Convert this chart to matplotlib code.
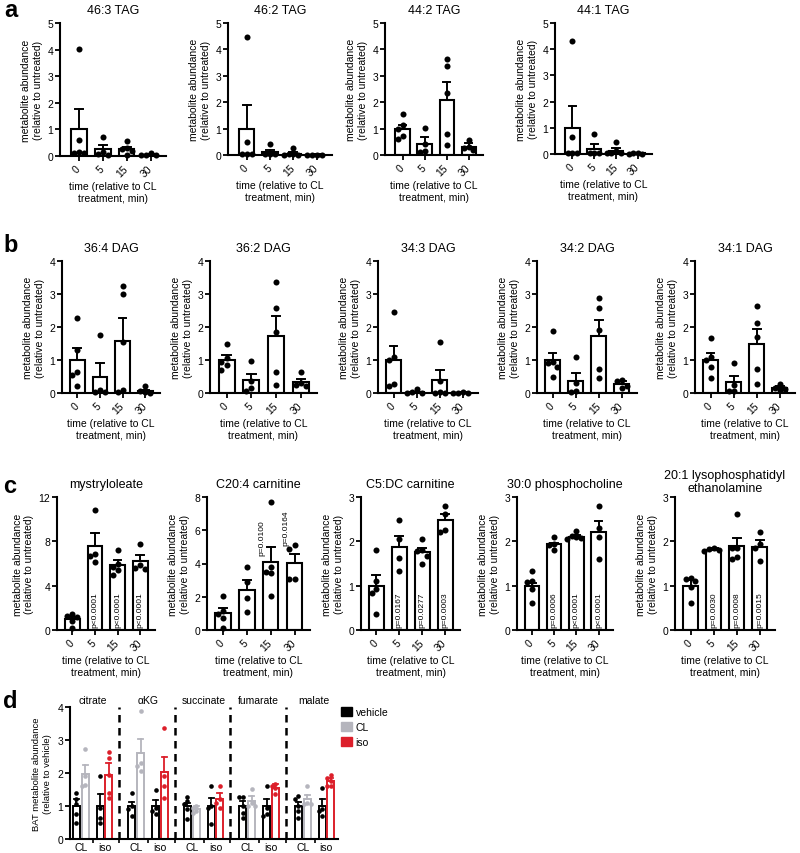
import numpy as np
import matplotlib
matplotlib.use('Agg')
import matplotlib.pyplot as plt
from matplotlib.patches import Patch

plt.rcParams['font.family'] = ['Liberation Sans', 'DejaVu Sans']

# ---- panel a: TAGs
times = ['0', '5', '15', '30']
tag_titles = ['46:3 TAG', '46:2 TAG', '44:2 TAG', '44:1 TAG']
tag_bars = [[1.0, 0.25, 0.27, 0.05], [1.0, 0.1, 0.05, 0.01], [1.0, 0.43, 2.1, 0.32], [1.0, 0.2, 0.12, 0.02]]
tag_errs = [[1.77, 0.4, 0.35, 0.08], [1.88, 0.2, 0.1, 0.02], [1.12, 0.68, 2.77, 0.45], [1.83, 0.4, 0.22, 0.03]]
tag_points = [
    [[4.02, 0.6, 0.15, 0.12, 0.1], [0.72, 0.15, 0.08, 0.05], [0.58, 0.3, 0.25, 0.2, 0.05], [0.1, 0.05, 0.05, 0.02]],
    [[4.48, 0.5, 0.02, 0.02, 0.02], [0.4, 0.05, 0.02, 0.02], [0.25, 0.05, 0.02, 0.01, 0.01], [0.01, 0.01, 0.01, 0.01]],
    [[1.54, 1.12, 1.0, 0.72, 0.62], [1.03, 0.42, 0.15, 0.1], [3.64, 3.36, 2.33, 0.78, 0.39], [0.56, 0.3, 0.25, 0.2]],
    [[4.3, 0.63, 0.05, 0.02, 0.02], [0.77, 0.05, 0.02, 0.02], [0.45, 0.1, 0.05, 0.02, 0.02], [0.03, 0.02, 0.01, 0.01]],
]

# ---- panel b: DAGs
dag_titles = ['36:4 DAG', '36:2 DAG', '34:3 DAG', '34:2 DAG', '34:1 DAG']
dag_bars = [[1.0, 0.47, 1.58, 0.05], [1.0, 0.38, 1.74, 0.32], [1.0, 0.02, 0.39, 0.01],
            [1.0, 0.36, 1.72, 0.28], [1.0, 0.32, 1.5, 0.15]]
dag_errs = [[1.37, 0.9, 2.27, 0.1], [1.14, 0.59, 2.32, 0.42], [1.41, 0.04, 0.7, 0.02],
            [1.22, 0.62, 2.2, 0.36], [1.2, 0.53, 1.93, 0.2]]
dag_points = [
    [[2.27, 1.3, 0.63, 0.56, 0.2], [1.76, 0.1, 0.02, 0.02], [3.23, 3.0, 1.55, 0.1, 0.02], [0.22, 0.05, 0.02, 0.01]],
    [[1.49, 1.05, 0.95, 0.85, 0.69], [0.98, 0.35, 0.15, 0.05], [3.35, 2.58, 1.85, 0.63, 0.25], [0.63, 0.3, 0.25, 0.2]],
    [[2.44, 1.1, 1.0, 0.27, 0.22], [0.12, 0.02, 0.01, 0.01], [1.56, 0.35, 0.02, 0.01, 0.01], [0.02, 0.01, 0.01, 0.01]],
    [[1.87, 0.95, 0.9, 0.8, 0.5], [1.09, 0.3, 0.05, 0.02], [2.88, 2.58, 1.92, 0.74, 0.46], [0.38, 0.36, 0.22, 0.15]],
    [[1.66, 1.1, 1.0, 0.8, 0.44], [0.92, 0.25, 0.05, 0.05], [2.64, 2.12, 1.7, 0.72, 0.28], [0.27, 0.15, 0.12, 0.08]],
]

# ---- panel c
c_titles = ['mystryloleate', 'C20:4 carnitine', 'C5:DC carnitine', '30:0 phosphocholine',
            '20:1 lysophosphatidyl\nethanolamine']
c_ymax = [12, 8, 3, 3, 3]
c_yticks = [[0, 4, 8, 12], [0, 2, 4, 6, 8], [0, 1, 2, 3], [0, 1, 2, 3], [0, 1, 2, 3]]
c_bars = [[1.0, 7.6, 5.85, 6.2], [1.0, 2.43, 4.08, 4.03], [1.0, 1.87, 1.76, 2.47],
          [1.0, 1.93, 2.1, 2.2], [1.0, 1.8, 1.9, 1.88]]
c_errs = [[1.2, 8.72, 6.3, 6.74], [1.3, 3.0, 4.97, 4.6], [1.25, 2.11, 1.85, 2.61],
          [1.05, 1.97, 2.15, 2.45], [1.13, 1.84, 2.08, 2.04]]
c_points = [
    [[1.46, 1.3, 1.15, 0.8, 0.22], [10.86, 6.9, 6.7, 6.13], [7.2, 6.0, 5.7, 5.4, 4.95], [7.8, 5.9, 5.6, 5.5]],
    [[2.04, 1.15, 0.95, 0.75, 0.1], [3.76, 2.9, 1.94, 1.1], [7.68, 3.8, 3.5, 3.4, 2.04], [5.1, 4.9, 3.05, 3.05]],
    [[1.81, 1.1, 0.92, 0.83, 0.36], [2.47, 2.05, 1.63, 1.34], [2.05, 1.8, 1.78, 1.68, 1.5], [2.8, 2.62, 2.25, 2.2]],
    [[1.32, 1.11, 1.08, 0.92, 0.62], [2.09, 1.95, 1.92, 1.8], [2.24, 2.12, 2.1, 2.08, 2.05], [2.8, 2.3, 2.1, 1.6]],
    [[1.17, 1.15, 1.1, 0.98, 0.6], [1.85, 1.82, 1.8, 1.78], [2.62, 1.85, 1.85, 1.65, 1.6], [2.2, 1.95, 1.85, 1.55]],
]
c_pvals = [['', 'p<0.0001', 'p<0.0001', 'p<0.0001'],
           ['', '', 'p=0.0100', 'p=0.0164'],
           ['', 'p=0.0167', 'p=0.0277', 'p=0.0003'],
           ['', 'p=0.0006', 'p<0.0001', 'p<0.0001'],
           ['', 'p=0.0030', 'p=0.0008', 'p=0.0015']]
c20_pval_base = [0, 0, 4.5, 5.1]   # p-values drawn above the bars in C20:4

# ---- panel d
d_names = ['citrate', 'αKG', 'succinate', 'fumarate', 'malate']
d_groups = ['vehicle', 'CL', 'iso']
d_ticklabels = ['CL', 'iso']
d_bars = [[1.0, 1.97, 1.0, 1.94], [1.0, 2.6, 1.0, 2.03], [1.0, 0.9, 1.0, 1.22],
          [1.0, 1.15, 1.0, 1.55], [1.0, 1.2, 1.0, 1.75]]
d_errs = [[1.22, 2.25, 1.35, 2.3], [1.12, 3.02, 1.17, 2.48], [1.1, 1.0, 1.25, 1.38],
          [1.15, 1.3, 1.2, 1.68], [1.12, 1.33, 1.2, 1.85]]
d_points = [
    [[1.4, 1.2, 1.05, 0.75, 0.5], [2.72, 1.9, 1.65, 1.6], [1.92, 0.95, 0.65, 0.5], [2.63, 2.45, 1.95, 1.4, 1.25]],
    [[1.4, 1.0, 0.9, 0.7], [3.87, 2.3, 2.2, 2.05], [1.5, 0.95, 0.85, 0.75], [3.35, 1.9, 1.6, 1.25]],
    [[1.27, 1.15, 1.05, 0.9, 0.6], [1.0, 0.95, 0.85, 0.8], [1.6, 1.0, 0.95, 0.45], [1.62, 1.2, 1.1, 0.95]],
    [[1.27, 1.27, 1.0, 0.8, 0.65], [1.52, 1.1, 1.0, 1.0], [1.6, 0.95, 0.75, 0.7], [1.68, 1.62, 1.55, 1.35]],
    [[1.3, 1.22, 1.0, 0.85, 0.63], [1.6, 1.1, 1.05, 1.05], [1.55, 0.9, 0.85, 0.7], [1.95, 1.85, 1.75, 1.6, 1.6]],
]

GRAY = '#b5b5bd'
RED = '#dc1f2a'
W, H = 800, 854
fig = plt.figure(figsize=(W / 100, H / 100), dpi=100)


def px_axes(l, t, r, b):
    return fig.add_axes([l / W, 1 - b / H, (r - l) / W, (b - t) / H])


def dodge(ys, ythr, step):
    # spread overlapping points sideways like a scatter dot plot
    placed, offs = [], []
    for y in ys:
        for k in [0, -1, 1, -2, 2, -3, 3]:
            o = k * step
            if all(abs(y - py) > ythr or abs(o - po) > step * 0.9 for py, po in placed):
                break
        placed.append((y, o))
        offs.append(o)
    return np.array(offs)


def style(ax, fs=7.5):
    for s in ['top', 'right']:
        ax.spines[s].set_visible(False)
    for s in ['left', 'bottom']:
        ax.spines[s].set_linewidth(1.5)
    ax.tick_params(width=1.3, length=3.5, labelsize=fs, pad=1.5)


def time_panel(ax, title, bars, errs, pts, ymax, yticks, xl, pvals=None, pbase=None, tpad=7.0):
    x = np.arange(4)
    ax.bar(x, bars, width=0.65, color='white', edgecolor='black', linewidth=1.5, zorder=2)
    for i in range(4):
        ax.plot([i, i], [bars[i], errs[i]], color='black', lw=1.4, zorder=3)
        ax.plot([i - 0.17, i + 0.17], [errs[i], errs[i]], color='black', lw=1.4, zorder=3)
        off = dodge(pts[i], ymax * 0.045, 0.21)
        ax.scatter(i + off, pts[i], s=19, color='black', zorder=4, clip_on=False, linewidths=0)
        if pvals and pvals[i]:
            if pbase is None:
                ax.text(i, ymax * 0.025, pvals[i], rotation=90, ha='center', va='bottom',
                        fontsize=6, zorder=5)
            else:
                ax.text(i - 0.38, pbase[i], pvals[i], rotation=90, ha='center', va='bottom',
                        fontsize=6, zorder=5)
    ax.set_xlim(xl, 3.65)
    ax.set_ylim(0, ymax)
    ax.set_yticks(yticks)
    ax.set_xticks(x)
    ax.set_xticklabels(times, rotation=45, ha='right', va='center', rotation_mode='anchor')
    style(ax)
    ax.tick_params(axis='x', pad=4)
    ax.set_title(title, fontsize=9, pad=tpad, linespacing=1.1)
    ax.set_xlabel('time (relative to CL\ntreatment, min)', fontsize=7.5, labelpad=2)
    ax.set_ylabel('metabolite abundance\n(relative to untreated)', fontsize=7.5, labelpad=3)


# panel a
a_rects = [(60, 24, 166, 157), (228, 24, 332, 156), (385, 24, 483, 156), (555, 24, 652, 155)]
for k, r in enumerate(a_rects):
    ax = px_axes(*r)
    time_panel(ax, tag_titles[k], tag_bars[k], tag_errs[k], tag_points[k], 5, [0, 1, 2, 3, 4, 5], -0.8)

# panel b
b_rects = [(62, 262, 160, 394), (210, 262, 317, 394), (378, 262, 478, 394), (537, 262, 637, 394), (695, 262, 795, 394)]
for k, r in enumerate(b_rects):
    ax = px_axes(*r)
    time_panel(ax, dag_titles[k], dag_bars[k], dag_errs[k], dag_points[k], 4, [0, 1, 2, 3, 4], -0.67)

# panel c
c_rects = [(57, 498, 155, 631), (207, 498, 310, 631), (361, 498, 460, 631), (517, 498, 613, 631), (675, 498, 775, 631)]
for k, r in enumerate(c_rects):
    ax = px_axes(*r)
    time_panel(ax, c_titles[k], c_bars[k], c_errs[k], c_points[k], c_ymax[k], c_yticks[k], -0.67,
               pvals=c_pvals[k], pbase=c20_pval_base if k == 1 else None,
               tpad=4.5 if k == 4 else 7.0)

# panel d
ax = px_axes(70, 708, 338, 840)
gstep = 6.2
inner = [0.0, 1.0, 2.68, 3.63]
cols = ['black', GRAY, 'black', RED]
for g in range(5):
    for j in range(4):
        xc = g * gstep + inner[j]
        ax.bar(xc, d_bars[g][j], width=0.78, color='white', edgecolor=cols[j], linewidth=1.4, zorder=2)
        ax.plot([xc, xc], [d_bars[g][j], d_errs[g][j]], color=cols[j], lw=1.3, zorder=3)
        ax.plot([xc - 0.28, xc + 0.28], [d_errs[g][j], d_errs[g][j]], color=cols[j], lw=1.3, zorder=3)
        off = dodge(d_points[g][j], 0.12, 0.4)
        ax.scatter(xc + off, d_points[g][j], s=11, color=cols[j], zorder=4, linewidths=0, clip_on=False)
    ax.text(g * gstep + 1.8, 4.22, d_names[g], ha='center', va='center', fontsize=7.5)
    if g < 4:
        ax.plot([g * gstep + 4.8] * 2, [0, 4], color='black', lw=1.8, ls=(0, (3, 2.2)), zorder=1)
ax.set_xlim(-0.7, 29.25)
ax.set_ylim(0, 4)
ax.set_yticks([0, 1, 2, 3, 4])
ctr = []
for g in range(5):
    ctr += [g * gstep + 0.5, g * gstep + 3.15]
ax.set_xticks(ctr)
ax.set_xticklabels(d_ticklabels * 5)
style(ax, fs=7.5)
ax.tick_params(axis='x', length=0, pad=2)
ax.set_xticks([g * gstep + 1.84 for g in range(5)] + [g * gstep + 4.8 for g in range(4)], minor=True)
ax.tick_params(axis='x', which='minor', length=3, width=1.2)
ax.set_ylabel('BAT metabolite abundance\n(relative to vehicle)', fontsize=6.8, labelpad=4)

handles = [Patch(facecolor=c, edgecolor=c) for c in ['black', GRAY, RED]]
fig.legend(handles, d_groups, loc='upper left', bbox_to_anchor=(337 / W, 1 - 704 / H), frameon=False,
           fontsize=7.5, handlelength=1.0, handleheight=1.0, handletextpad=0.4, labelspacing=0.45,
           borderaxespad=0)

# panel letters
for lab, (x, y) in zip('abcd', [(4, 17), (3, 252), (3, 493), (3, 708)]):
    fig.text(x / W, 1 - y / H, lab, fontsize=17, fontweight='bold', ha='left', va='baseline')

fig.savefig('out.png', dpi=100)
